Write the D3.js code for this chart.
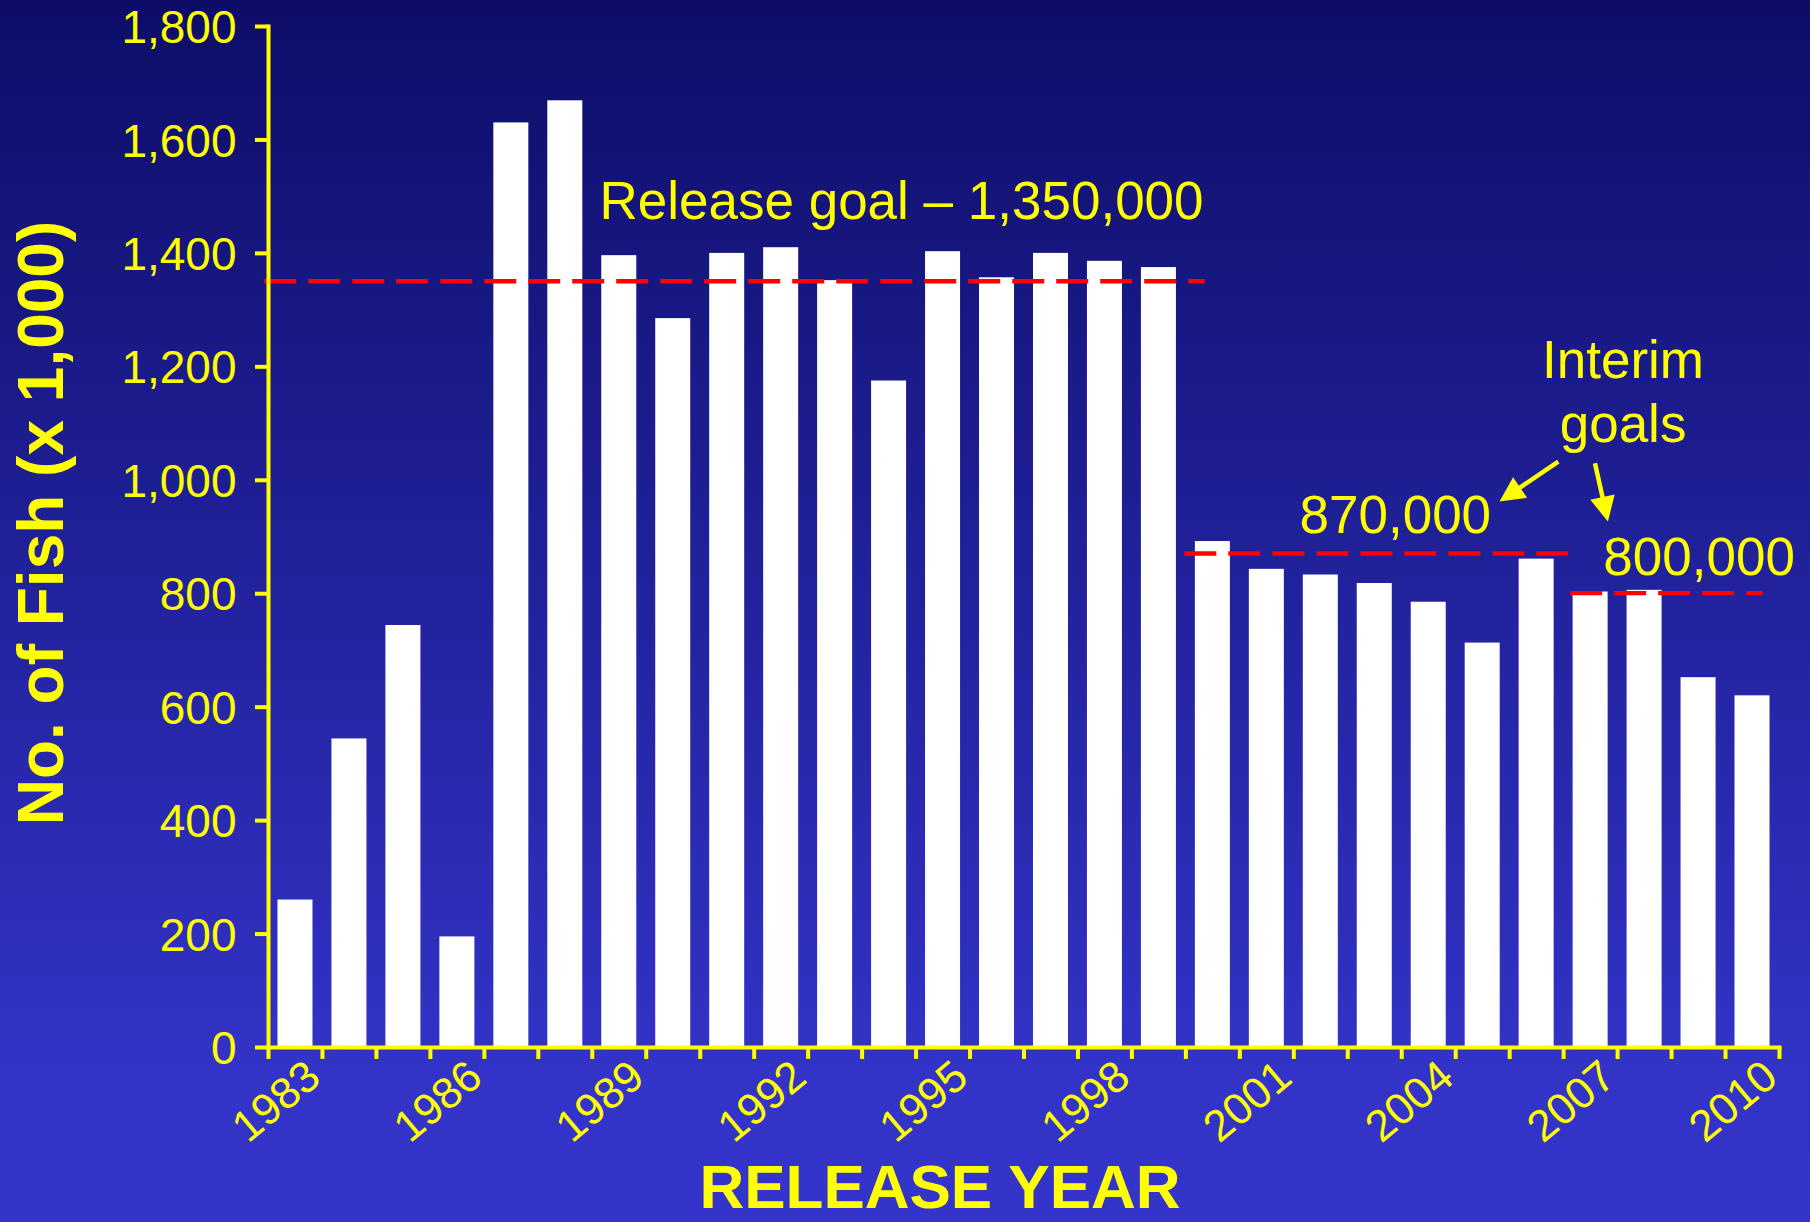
<!DOCTYPE html>
<html>
<head>
<meta charset="utf-8">
<script src="https://cdn.jsdelivr.net/npm/d3@7"></script>
<style>
  html, body { margin: 0; padding: 0; background: #1d1d88; }
  svg { display: block; }
  text { font-family: "Liberation Sans", Arial, Helvetica, sans-serif; }
</style>
</head>
<body>
<script>
// Hatchery releases by year (thousands of fish)
const years = [1983, 1984, 1985, 1986, 1987, 1988, 1989, 1990, 1991, 1992,
               1993, 1994, 1995, 1996, 1997, 1998, 1999, 2000, 2001, 2002,
               2003, 2004, 2005, 2006, 2007, 2008, 2009, 2010];
const releases = [260, 544, 744, 195, 1630, 1669, 1396, 1285, 1400, 1410,
                  1352, 1175, 1403, 1357, 1400, 1386, 1375, 892, 843, 833,
                  818, 785, 713, 861, 803, 806, 652, 620];
const yTickValues = [0, 200, 400, 600, 800, 1000, 1200, 1400, 1600, 1800];
const xLabelYears = [1983, 1986, 1989, 1992, 1995, 1998, 2001, 2004, 2007, 2010];

// Release goals (thousands) and the span of years each one covers
const goalValues = [1350, 870, 800];
const goalFrom = [1982.43, 1999.48, 2006.63];
const goalTo = [1999.86, 2006.59, 2010.2];

const W = 1810, H = 1222;
const YELLOW = "#ffff00", RED = "#ff0000";

const svg = d3.select("body").append("svg")
  .attr("width", W).attr("height", H);

// background gradient
const defs = svg.append("defs");
const grad = defs.append("linearGradient")
  .attr("id", "bg").attr("gradientUnits", "userSpaceOnUse")
  .attr("x1", 0).attr("y1", 0).attr("x2", 0).attr("y2", H);
grad.append("stop").attr("offset", "0%").attr("stop-color", "#0d0d68");
grad.append("stop").attr("offset", "88%").attr("stop-color", "#3333c8");
grad.append("stop").attr("offset", "100%").attr("stop-color", "#3434ca");
svg.append("rect").attr("width", W).attr("height", H).attr("fill", "url(#bg)");

// scales
const x0 = 268, x1 = 1779;
const x = d3.scaleBand().domain(years).range([x0, x1])
  .paddingInner(0.3514).paddingOuter(0.1757);
const xPos = d3.scaleLinear().domain([1982.5, 2010.5]).range([x0, x1]);
const y = d3.scaleLinear().domain([0, 1800]).range([1047, 26]);

// bars
svg.append("g").selectAll("rect")
  .data(years.map((yr, i) => ({ year: yr, value: releases[i] })))
  .join("rect")
  .attr("x", d => x(d.year))
  .attr("y", d => y(d.value))
  .attr("width", x.bandwidth())
  .attr("height", d => y(0) - y(d.value))
  .attr("fill", "#ffffff");

// goal lines
svg.append("g").selectAll("line")
  .data(goalValues.map((v, i) => ({ value: v, from: goalFrom[i], to: goalTo[i] })))
  .join("line")
  .attr("x1", d => xPos(d.from))
  .attr("x2", d => xPos(d.to))
  .attr("y1", d => y(d.value))
  .attr("y2", d => y(d.value))
  .attr("stroke", RED)
  .attr("stroke-width", 4.3)
  .attr("stroke-dasharray", "32 12");

// y axis
const yAxis = svg.append("g")
  .attr("transform", `translate(${x0},0)`)
  .call(d3.axisLeft(y).tickValues(yTickValues).tickSize(13).tickSizeOuter(0)
    .tickPadding(18.5).tickFormat(d3.format(",")));
yAxis.select(".domain").attr("stroke", YELLOW).attr("stroke-width", 4)
  .attr("stroke-linecap", "square");
yAxis.selectAll(".tick line").attr("stroke", YELLOW).attr("stroke-width", 4);
yAxis.selectAll(".tick text")
  .attr("fill", YELLOW).attr("font-size", 46).attr("dy", "0.36em")
  .attr("font-family", "'Liberation Sans', Arial, Helvetica, sans-serif");

// x axis: ticks on category boundaries
const boundaries = d3.range(years.length + 1).map(i => 1982.5 + i);
const xAxis = svg.append("g")
  .attr("transform", `translate(0,${y(0)})`)
  .call(d3.axisBottom(xPos).tickValues(boundaries).tickSize(12).tickSizeOuter(0)
    .tickFormat(() => ""));
xAxis.select(".domain").attr("stroke", YELLOW).attr("stroke-width", 4)
  .attr("stroke-linecap", "square");
xAxis.selectAll(".tick line").attr("stroke", YELLOW).attr("stroke-width", 4);

// rotated year labels
svg.append("g").selectAll("text")
  .data(xLabelYears)
  .join("text")
  .attr("transform", d => `translate(${xPos(d + 0.5) + 1},${y(0) + 34}) rotate(-40)`)
  .attr("text-anchor", "end")
  .attr("fill", YELLOW)
  .attr("font-size", 44)
  .text(d => d);

// axis titles
svg.append("text")
  .attr("transform", "translate(63,523) rotate(-90)")
  .attr("text-anchor", "middle")
  .attr("fill", YELLOW).attr("font-size", 64).attr("font-weight", "bold")
  .text("No. of Fish (x 1,000)");

svg.append("text")
  .attr("x", 940).attr("y", 1208)
  .attr("text-anchor", "middle")
  .attr("fill", YELLOW).attr("font-size", 62).attr("font-weight", "bold")
  .text("RELEASE YEAR");

// annotations placed in data coordinates
function note(yr, val, str) {
  svg.append("text")
    .attr("x", xPos(yr)).attr("y", y(val))
    .attr("text-anchor", "middle")
    .attr("fill", YELLOW).attr("font-size", 53)
    .text(str);
}
note(1994.24, 1459, "Release goal \u2013 1,350,000");
note(2007.61, 1179, "Interim");
note(2007.61, 1067, "goals");
note(2003.39, 906, "870,000");
note(2009.02, 833, "800,000");

function arrow(fromYr, fromVal, toYr, toVal) {
  const sx = xPos(fromYr), sy = y(fromVal);
  const tx = xPos(toYr), ty = y(toVal);
  const dx = tx - sx, dy = ty - sy;
  const len = Math.hypot(dx, dy);
  const ux = dx / len, uy = dy / len;
  const headLen = 25, headHalf = 12.5;
  const bx = tx - ux * headLen, by = ty - uy * headLen;
  svg.append("line")
    .attr("x1", sx).attr("y1", sy).attr("x2", bx + ux * 2).attr("y2", by + uy * 2)
    .attr("stroke", YELLOW).attr("stroke-width", 4.5);
  svg.append("polygon")
    .attr("points", [
      [tx, ty],
      [bx - uy * headHalf, by + ux * headHalf],
      [bx + uy * headHalf, by - ux * headHalf]
    ].map(p => p.join(",")).join(" "))
    .attr("fill", YELLOW);
}
arrow(2006.41, 1032, 2005.32, 961.6);
arrow(2007.09, 1029, 2007.33, 926.4);
</script>
</body>
</html>
